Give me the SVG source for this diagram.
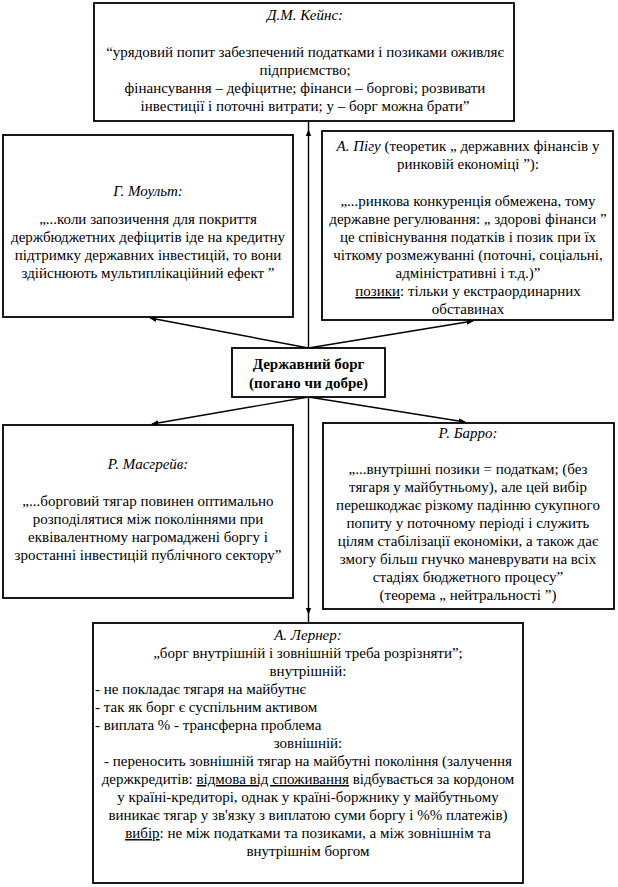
<svg xmlns="http://www.w3.org/2000/svg" width="618" height="887" viewBox="0 0 618 887">
<defs>
<marker id="ah" viewBox="0 0 10 10" refX="9" refY="5" markerWidth="7" markerHeight="7" orient="auto-start-reverse" markerUnits="userSpaceOnUse">
<path d="M0,1 L10,5 L0,9 Z" fill="#000"/>
</marker>
<style>
.box{fill:#fff;stroke:#000;stroke-width:1.8}
.t{font-size:15px;fill:#000;text-anchor:middle}
.l{text-anchor:start}
.i{font-style:italic}
.b{font-weight:bold}
.u{text-decoration:underline}
.c{stroke:#000;stroke-width:1.4;fill:none}
</style>
</defs>
<rect width="618" height="887" fill="#fff"/>
<g id="connectors">
<line class="c" x1="308.5" y1="130" x2="308.5" y2="614" marker-start="url(#ah)" marker-end="url(#ah)"/>
<line class="c" x1="308.5" y1="348" x2="150" y2="318" marker-end="url(#ah)"/>
<line class="c" x1="308.5" y1="348" x2="473" y2="321" marker-end="url(#ah)"/>
<line class="c" x1="308.5" y1="397" x2="152" y2="424" marker-end="url(#ah)"/>
<line class="c" x1="308.5" y1="397" x2="465" y2="422" marker-end="url(#ah)"/>
<line class="c" x1="308.5" y1="122" x2="308.5" y2="130"/>
<line class="c" x1="308.5" y1="614" x2="308.5" y2="622"/>
</g>
<g font-family="Liberation Serif, Times New Roman, DejaVu Serif, serif">
<g id="keynes">
<rect class="box" x="94" y="3" width="420" height="118"/>
<text class="t" x="305" y="20"><tspan class="i">Д.М. Кейнс:</tspan></text>
<text class="t" x="305" y="57">“урядовий попит забезпечений податками і позиками оживляє</text>
<text class="t" x="305" y="75">підприємство;</text>
<text class="t" x="305" y="93">фінансування – дефіцитне; фінанси – боргові; розвивати</text>
<text class="t" x="305" y="111">інвестиції і поточні витрати; у – борг можна брати”</text>
</g>
<g id="moult">
<rect class="box" x="3" y="135" width="290" height="182"/>
<text class="t i" x="148" y="196">Г. Моульт:</text>
<text class="t" x="148" y="224">„...коли запозичення для покриття</text>
<text class="t" x="148" y="242">держбюджетних дефіцитів іде на кредитну</text>
<text class="t" x="148" y="260">підтримку державних інвестицій, то вони</text>
<text class="t" x="148" y="278">здійснюють мультиплікаційний ефект ”</text>
</g>
<g id="pigou">
<rect class="box" x="322" y="131" width="291" height="189"/>
<text class="t" x="468" y="151"><tspan class="i">А. Пігу</tspan> (теоретик „ державних фінансів у</text>
<text class="t" x="468" y="169">ринковій економіці ”):</text>
<text class="t" x="468" y="206">„...ринкова конкуренція обмежена, тому</text>
<text class="t" x="468" y="224">державне регулювання: „ здорові фінанси ”</text>
<text class="t" x="468" y="242">це співіснування податків і позик при їх</text>
<text class="t" x="468" y="260">чіткому розмежуванні (поточні, соціальні,</text>
<text class="t" x="468" y="278">адміністративні і т.д.)”</text>
<text class="t" x="468" y="296"><tspan class="u">позики</tspan>: тільки у екстраординарних</text>
<text class="t" x="468" y="314">обставинах</text>
</g>
<g id="debt">
<rect class="box" x="232" y="348" width="153" height="49"/>
<text class="t b" x="308.5" y="369">Державний борг</text>
<text class="t b" x="308.5" y="388">(погано чи добре)</text>
</g>
<g id="musgrave">
<rect class="box" x="3" y="425" width="290" height="173"/>
<text class="t i" x="148" y="469">Р. Масгрейв:</text>
<text class="t" x="148" y="506">„...борговий тягар повинен оптимально</text>
<text class="t" x="148" y="524">розподілятися між поколіннями при</text>
<text class="t" x="148" y="542">еквівалентному нагромаджені боргу і</text>
<text class="t" x="148" y="560">зростанні інвестицій публічного сектору”</text>
</g>
<g id="barro">
<rect class="box" x="323" y="423" width="291" height="186"/>
<text class="t i" x="468" y="438">Р. Барро:</text>
<text class="t" x="468" y="474">„...внутрішні позики = податкам; (без</text>
<text class="t" x="468" y="492">тягаря у майбутньому), але цей вибір</text>
<text class="t" x="468" y="510">перешкоджає різкому падінню сукупного</text>
<text class="t" x="468" y="528">попиту у поточному періоді і служить</text>
<text class="t" x="468" y="546">цілям стабілізації економіки, а також дає</text>
<text class="t" x="468" y="564">змогу більш гнучко маневрувати на всіх</text>
<text class="t" x="468" y="582">стадіях бюджетного процесу”</text>
<text class="t" x="468" y="600">(теорема „ нейтральності ”)</text>
</g>
<g id="lerner">
<rect class="box" x="93" y="623" width="430" height="260"/>
<text class="t i" x="308" y="640">А. Лернер:</text>
<text class="t" x="308" y="658">„борг внутрішній і зовнішній треба розрізняти”;</text>
<text class="t" x="308" y="676">внутрішній:</text>
<text class="t l" x="95" y="694">- не покладає тягаря на майбутнє</text>
<text class="t l" x="95" y="712">- так як борг є суспільним активом</text>
<text class="t l" x="95" y="730">- виплата % - трансферна проблема</text>
<text class="t" x="308" y="748">зовнішній:</text>
<text class="t" x="308" y="766">- переносить зовнішній тягар на майбутні покоління (залучення</text>
<text class="t" x="308" y="784">держкредитів: <tspan class="u">відмова від споживання</tspan> відбувається за кордоном</text>
<text class="t" x="308" y="802">у країні-кредиторі, однак у країні-боржнику у майбутньому</text>
<text class="t" x="308" y="820">виникає тягар у зв'язку з виплатою суми боргу і %% платежів)</text>
<text class="t" x="308" y="838"><tspan class="u">вибір</tspan>: не між податками та позиками, а між зовнішнім та</text>
<text class="t" x="308" y="856">внутрішнім боргом</text>
</g>
</g>
</svg>
